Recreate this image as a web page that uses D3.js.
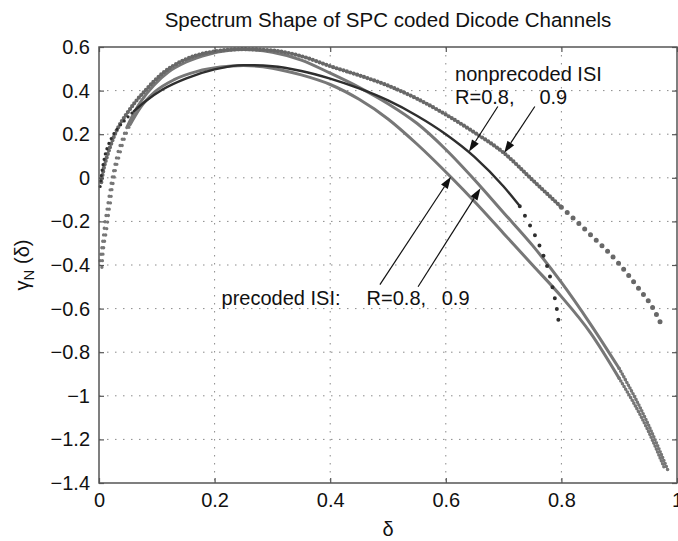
<!DOCTYPE html>
<html>
<head>
<meta charset="utf-8">
<script src="https://cdn.jsdelivr.net/npm/d3@7"></script>
<style>
  body { margin: 0; background: #fff; }
  svg { display: block; font-family: "Liberation Sans", Arial, Helvetica, sans-serif; }
</style>
</head>
<body>
<div id="chart"></div>
<script>
// tick values
const xTicks = [0, 0.2, 0.4, 0.6, 0.8, 1];
const yTicks = [0.6, 0.4, 0.2, 0, -0.2, -0.4, -0.6, -0.8, -1, -1.2, -1.4];

// [delta, gamma] points
const nonprecR09 = [
  [0.004, -0.02], [0.008, 0.04], [0.013, 0.09], [0.019, 0.14], [0.026, 0.19], [0.035, 0.24],
  [0.047, 0.29], [0.062, 0.345], [0.08, 0.40], [0.108, 0.475], [0.143, 0.535], [0.19, 0.575],
  [0.25, 0.59], [0.30, 0.584], [0.35, 0.558], [0.40, 0.512], [0.45, 0.47], [0.50, 0.423],
  [0.55, 0.363], [0.60, 0.29], [0.65, 0.207], [0.70, 0.115], [0.75, -0.01], [0.80, -0.135],
  [0.85, -0.26], [0.90, -0.395], [0.93, -0.495], [0.96, -0.605], [0.976, -0.69]
];
const nonprecR08 = [
  [0.002, -0.04], [0.004, 0.01], [0.007, 0.06], [0.011, 0.11], [0.016, 0.15], [0.023, 0.19],
  [0.032, 0.225], [0.045, 0.265], [0.06, 0.305], [0.08, 0.35], [0.11, 0.405], [0.15, 0.455],
  [0.2, 0.497], [0.25, 0.517], [0.30, 0.512], [0.35, 0.49], [0.40, 0.455], [0.45, 0.41],
  [0.50, 0.355], [0.55, 0.285], [0.60, 0.20], [0.65, 0.095], [0.70, -0.04], [0.728, -0.13],
  [0.742, -0.2], [0.757, -0.28], [0.768, -0.35], [0.779, -0.44], [0.786, -0.52],
  [0.792, -0.6], [0.797, -0.7]
];
const precR09 = [
  [0.002, -0.38], [0.005, -0.32], [0.008, -0.26], [0.010, -0.21], [0.013, -0.16], [0.016, -0.11],
  [0.019, -0.06], [0.022, -0.01], [0.026, 0.04], [0.031, 0.10], [0.038, 0.16], [0.048, 0.23],
  [0.06, 0.295], [0.075, 0.36], [0.095, 0.425], [0.12, 0.485], [0.15, 0.53], [0.19, 0.567],
  [0.25, 0.588], [0.30, 0.576], [0.35, 0.54], [0.40, 0.48], [0.45, 0.415], [0.50, 0.34],
  [0.55, 0.25], [0.60, 0.13], [0.65, -0.01], [0.70, -0.16], [0.75, -0.31], [0.80, -0.48],
  [0.85, -0.67], [0.90, -0.875], [0.95, -1.13], [0.984, -1.34]
];
const precR08 = [
  [0.005, -0.41], [0.007, -0.345], [0.010, -0.285], [0.013, -0.24], [0.015, -0.2], [0.017, -0.155],
  [0.020, -0.11], [0.022, -0.06], [0.025, -0.015], [0.028, 0.03], [0.034, 0.09], [0.042, 0.165],
  [0.054, 0.245], [0.071, 0.32], [0.097, 0.395], [0.13, 0.45], [0.17, 0.488], [0.21, 0.508],
  [0.25, 0.515], [0.30, 0.503], [0.35, 0.472], [0.40, 0.428], [0.45, 0.36], [0.50, 0.27],
  [0.55, 0.155], [0.61, 0.0], [0.65, -0.11], [0.70, -0.255], [0.75, -0.40], [0.80, -0.545],
  [0.85, -0.71], [0.90, -0.92], [0.95, -1.16], [0.978, -1.33]
];

// annotations, in data units
const labelTexts = ["nonprecoded ISI", "R=0.8,", "0.9", "precoded ISI:", "R=0.8,", "0.9"];
const labelAt = [[0.616, 0.445], [0.616, 0.337], [0.762, 0.337], [0.212, -0.583], [0.463, -0.583], [0.593, -0.583]];
const arrowFrom = [[0.690, 0.327], [0.754, 0.327], [0.486, -0.49], [0.552, -0.50]];
const arrowTo = [[0.640, 0.12], [0.701, 0.114], [0.609, 0.005], [0.66, -0.048]];

const width = 678, height = 541;
const margin = {top: 47, right: 1, bottom: 58, left: 99};
const fontSize = 20;

const svg = d3.select('#chart').append('svg')
  .attr('width', width)
  .attr('height', height)
  .style('background', '#fff');

const x = d3.scaleLinear([0, 1], [margin.left, width - margin.right]);
const y = d3.scaleLinear([-1.4, 0.6], [height - margin.bottom, margin.top]);

// dotted grid
const grid = svg.append('g').attr('class', 'grid')
  .attr('stroke', '#8a8a8a').attr('stroke-width', 1).attr('stroke-dasharray', '1.5 6.5');
grid.selectAll('.gx').data(xTicks.slice(1, -1)).join('line').attr('class', 'gx')
  .attr('x1', d => x(d)).attr('x2', d => x(d))
  .attr('y1', y(0.6)).attr('y2', y(-1.4));
grid.selectAll('.gy').data(yTicks.slice(1, -1)).join('line').attr('class', 'gy')
  .attr('y1', d => y(d)).attr('y2', d => y(d))
  .attr('x1', x(0)).attr('x2', x(1));

// curves: each split in pieces drawn solid or as dots
const line = d3.line().x(d => x(d[0])).y(d => y(d[1])).curve(d3.curveMonotoneX);
const series = [
  {data: precR08, color: '#777', parts: [
    {lo: 0, hi: 0.054, w: 3.4, dash: '0 6.5'}, {lo: 0.054, hi: 0.90, w: 3, dash: null},
    {lo: 0.90, hi: 1, w: 3.6, dash: '0 3.2'}]},
  {data: precR09, color: '#777', parts: [
    {lo: 0, hi: 0.048, w: 3.4, dash: '0 6.5'}, {lo: 0.048, hi: 0.90, w: 3, dash: null},
    {lo: 0.90, hi: 1, w: 3.6, dash: '0 3.2'}]},
  {data: nonprecR09, color: '#686868', parts: [
    {lo: 0, hi: 0.80, w: 4.2, dash: '0 3.6'}, {lo: 0.80, hi: 1, w: 5, dash: '0 8'}]},
  {data: nonprecR08, color: '#2e2e2e', parts: [
    {lo: 0, hi: 0.06, w: 3.2, dash: '0 5.5'}, {lo: 0.06, hi: 0.728, w: 2.4, dash: null},
    {lo: 0.728, hi: 1, w: 4, dash: '0 11'}]}
];
const curves = svg.append('g').attr('class', 'curves');
series.forEach(s => {
  s.parts.forEach(p => {
    curves.append('path')
      .datum(s.data.filter(d => d[0] >= p.lo && d[0] <= p.hi))
      .attr('d', line)
      .attr('fill', 'none')
      .attr('stroke', s.color)
      .attr('stroke-width', p.w)
      .attr('stroke-linecap', 'round')
      .attr('stroke-linejoin', 'round')
      .attr('stroke-dasharray', p.dash);
  });
});

// axes with inner ticks on all four sides
const fmt = d3.format('~g');
const styleAxis = g => {
  g.select('.domain').remove();
  g.selectAll('.tick line').attr('stroke', '#555').attr('stroke-width', 1.2);
  g.selectAll('.tick text').attr('fill', '#111').style('font-size', fontSize + 'px')
    .style('font-family', '"Liberation Sans", Arial, sans-serif');
};
svg.append('g').attr('transform', `translate(0,${y(-1.4)})`)
  .call(d3.axisBottom(x).tickValues(xTicks).tickSize(-5).tickPadding(10).tickFormat(fmt))
  .call(styleAxis);
svg.append('g').attr('transform', `translate(${x(0)},0)`)
  .call(d3.axisLeft(y).tickValues(yTicks).tickSize(-5).tickPadding(9).tickFormat(fmt))
  .call(styleAxis);
svg.append('g').attr('transform', `translate(0,${y(0.6)})`)
  .call(d3.axisTop(x).tickValues(xTicks).tickSize(-5).tickFormat(''))
  .call(styleAxis);
svg.append('g').attr('transform', `translate(${x(1)},0)`)
  .call(d3.axisRight(y).tickValues(yTicks).tickSize(-5).tickFormat(''))
  .call(styleAxis);

svg.append('rect')
  .attr('x', x(0)).attr('y', y(0.6))
  .attr('width', x(1) - x(0)).attr('height', y(-1.4) - y(0.6))
  .attr('fill', 'none').attr('stroke', '#555').attr('stroke-width', 1.5);

// arrows
const ann = svg.append('g').attr('class', 'annotations');
arrowFrom.forEach((f, i) => {
  const t = arrowTo[i];
  const x0 = x(f[0]), y0 = y(f[1]), x1 = x(t[0]), y1 = y(t[1]);
  const a = Math.atan2(y1 - y0, x1 - x0);
  const len = 12, hw = 4;
  const bx = x1 - len * Math.cos(a), by = y1 - len * Math.sin(a);
  ann.append('line')
    .attr('x1', x0).attr('y1', y0).attr('x2', bx).attr('y2', by)
    .attr('stroke', '#111').attr('stroke-width', 1.2);
  ann.append('path')
    .attr('d', `M${x1},${y1}L${bx + hw * Math.sin(a)},${by - hw * Math.cos(a)}L${bx - hw * Math.sin(a)},${by + hw * Math.cos(a)}Z`)
    .attr('fill', '#111');
});
ann.selectAll('text').data(labelTexts).join('text')
  .attr('x', (d, i) => x(labelAt[i][0]))
  .attr('y', (d, i) => y(labelAt[i][1]))
  .attr('fill', '#111')
  .style('font-size', fontSize + 'px')
  .text(d => d);

// titles
svg.append('text')
  .attr('x', (x(0) + x(1)) / 2).attr('y', 27)
  .attr('text-anchor', 'middle')
  .attr('fill', '#111')
  .style('font-size', '20.5px')
  .text('Spectrum Shape of SPC coded Dicode Channels');

svg.append('text')
  .attr('x', (x(0) + x(1)) / 2).attr('y', 536)
  .attr('text-anchor', 'middle')
  .attr('fill', '#111')
  .style('font-size', fontSize + 'px')
  .text('δ');

const yl = svg.append('text')
  .attr('transform', `translate(29,${(y(0.6) + y(-1.4)) / 2}) rotate(-90)`)
  .attr('text-anchor', 'middle')
  .attr('fill', '#111')
  .style('font-size', fontSize + 'px');
yl.append('tspan').text('γ');
yl.append('tspan').attr('dy', 5).style('font-size', '15px').text('N');
yl.append('tspan').attr('dy', -5).text(' (δ)');
</script>
</body>
</html>
